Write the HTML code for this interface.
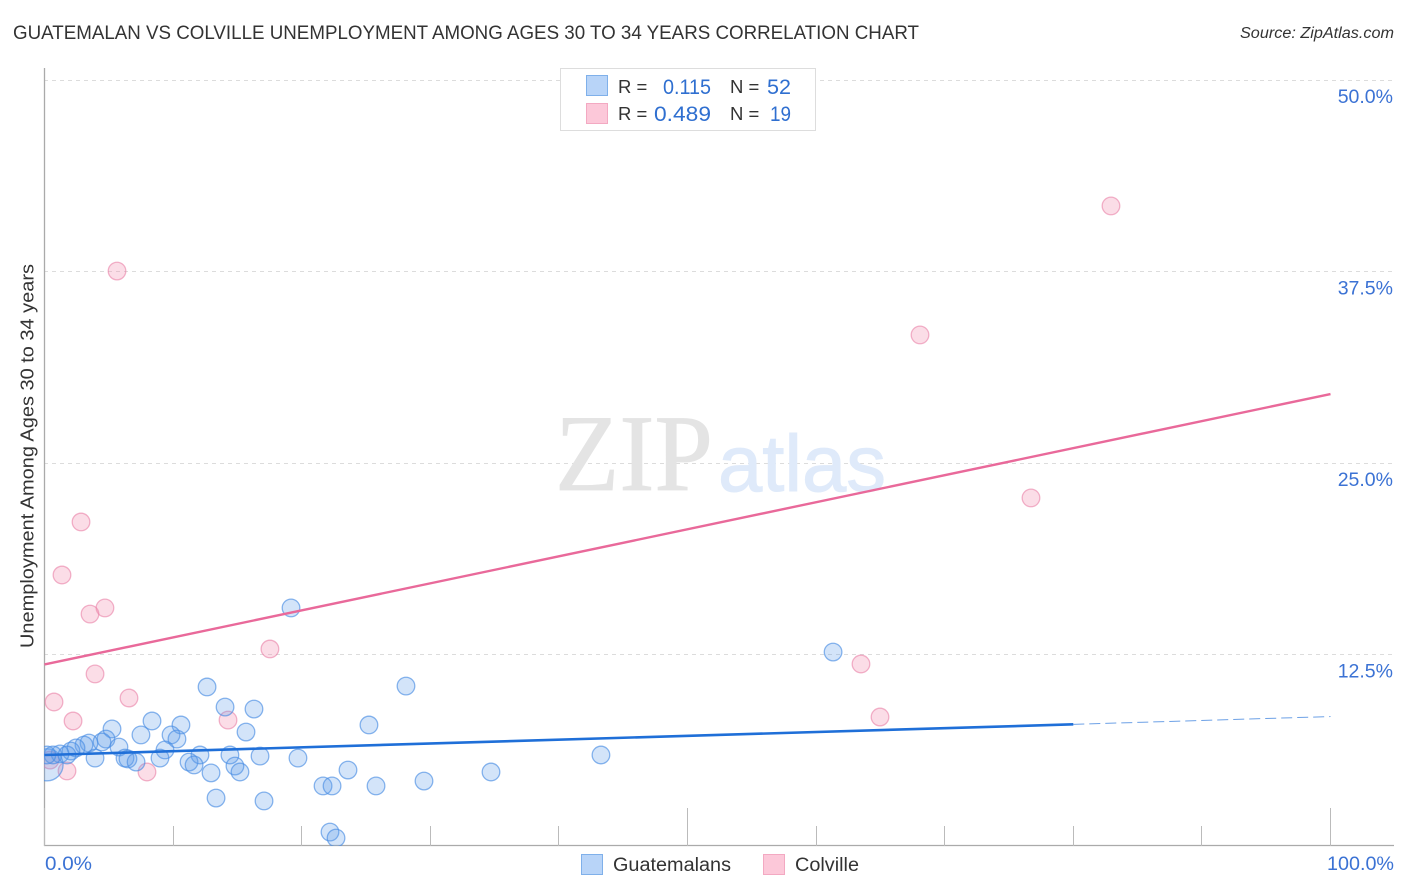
<!DOCTYPE html>
<html lang="en">
<head>
<meta charset="utf-8">
<title>Guatemalan vs Colville Unemployment Among Ages 30 to 34 Years Correlation Chart</title>
<style>
html,body{margin:0;padding:0;background:#fff;}
body{width:1406px;height:892px;overflow:hidden;}
svg{display:block;font-family:"Liberation Sans",sans-serif;}
</style>
</head>
<body>
<svg id="chart" width="1406" height="892" viewBox="0 0 1406 892" xmlns="http://www.w3.org/2000/svg">
  <defs>
    <clipPath id="plot-clip"><rect x="44" y="68" width="1350" height="778"/></clipPath>
  </defs>
  <text x="13" y="39" font-size="19" fill="#333" textLength="906" lengthAdjust="spacingAndGlyphs">GUATEMALAN VS COLVILLE UNEMPLOYMENT AMONG AGES 30 TO 34 YEARS CORRELATION CHART</text>
  <text x="1394" y="38" font-size="15.5" font-style="italic" fill="#333" text-anchor="end" textLength="154" lengthAdjust="spacingAndGlyphs">Source: ZipAtlas.com</text>
  <g id="grid"></g>
  <g>
    <text x="555" y="490" font-family="'Liberation Serif',serif" font-size="109" fill="#e4e4e4" stroke="#e4e4e4" stroke-width="0.8" textLength="158" lengthAdjust="spacingAndGlyphs">ZIP</text>
    <text x="718" y="491" font-size="80" fill="#dfeafa" stroke="#dfeafa" stroke-width="1" textLength="168" lengthAdjust="spacingAndGlyphs">atlas</text>
  </g>
  <g id="axes"></g>
  <g id="points" clip-path="url(#plot-clip)"></g>
  <g id="trends"></g>
  <g id="ylabels"></g>
  <text transform="translate(33.5,456) rotate(-90)" font-size="18" fill="#333" text-anchor="middle" textLength="384" lengthAdjust="spacingAndGlyphs">Unemployment Among Ages 30 to 34 years</text>
  <text x="45" y="870" font-size="19" fill="#3b72d4" textLength="47" lengthAdjust="spacingAndGlyphs">0.0%</text>
  <text x="1394" y="870" font-size="19" fill="#3b72d4" text-anchor="end" textLength="67" lengthAdjust="spacingAndGlyphs">100.0%</text>

  <g>
    <rect x="560.5" y="68.5" width="255" height="62" fill="#fff" stroke="#ddd"/>
    <rect x="586.5" y="75.5" width="21" height="20" fill="#b8d4f8" stroke="#7fb0ea"/>
    <rect x="586.5" y="103.5" width="21" height="20" fill="#fcc8d9" stroke="#f3a9c2"/>
    <text x="618" y="93" font-size="18.5" fill="#333">R =</text>
    <text x="711" y="94" font-size="21" fill="#2f6fd0" text-anchor="end" textLength="48" lengthAdjust="spacingAndGlyphs">0.115</text>
    <text x="730" y="93" font-size="18.5" fill="#333">N =</text>
    <text x="791" y="94" font-size="21" fill="#2f6fd0" text-anchor="end" textLength="24" lengthAdjust="spacingAndGlyphs">52</text>
    <text x="618" y="120" font-size="18.5" fill="#333">R =</text>
    <text x="711" y="121" font-size="21" fill="#2f6fd0" text-anchor="end" textLength="57" lengthAdjust="spacingAndGlyphs">0.489</text>
    <text x="730" y="120" font-size="18.5" fill="#333">N =</text>
    <text x="791" y="121" font-size="21" fill="#2f6fd0" text-anchor="end" textLength="21" lengthAdjust="spacingAndGlyphs">19</text>
  </g>

  <g>
    <rect x="581.5" y="854.5" width="21" height="20" fill="#b8d4f8" stroke="#7fb0ea"/>
    <text x="613" y="871" font-size="19" fill="#333" textLength="118" lengthAdjust="spacingAndGlyphs">Guatemalans</text>
    <rect x="763.5" y="854.5" width="21" height="20" fill="#fcc8d9" stroke="#f3a9c2"/>
    <text x="795" y="871" font-size="19" fill="#333" textLength="64" lengthAdjust="spacingAndGlyphs">Colville</text>
  </g>
</svg>
<script>
const yTickValues = [12.5, 25, 37.5, 50];
const yTickLabels = ["12.5%", "25.0%", "37.5%", "50.0%"];
const xTickValues = [0, 10, 20, 30, 40, 50, 60, 70, 80, 90, 100];
const xMajorTicks = [0, 50, 100];

const guatemalanX = [19.17, 61.32, 12.64, 28.11, 14.04, 16.29, 8.36, 10.61, 25.23, 5.25, 7.5, 9.84, 10.3, 15.67, 4.78, 4.47, 3.46, 3.07, 5.79, 9.37, 2.45, 2.06, 1.21, 0.66, 1.75, 0.19, 3.93, 6.26, 6.49, 7.12, 8.98, 12.09, 11.24, 11.63, 14.42, 14.81, 15.2, 16.76, 19.71, 43.27, 12.95, 23.6, 34.72, 29.51, 21.66, 22.36, 25.78, 13.34, 17.07, 22.2, 22.67];
const guatemalanY = [15.54, 12.66, 10.38, 10.44, 9.07, 8.94, 8.16, 7.9, 7.9, 7.64, 7.25, 7.25, 6.98, 7.44, 6.98, 6.79, 6.72, 6.59, 6.46, 6.27, 6.4, 6.2, 6.01, 5.94, 5.94, 5.94, 5.74, 5.74, 5.68, 5.48, 5.74, 5.94, 5.48, 5.29, 5.94, 5.22, 4.83, 5.87, 5.74, 5.94, 4.77, 4.96, 4.83, 4.24, 3.92, 3.92, 3.92, 3.13, 2.94, 0.91, 0.52];
const guatemalanLargeX = [0.2];
const guatemalanLargeY = [5.3];
const colvilleX = [5.64, 82.93, 68.08, 76.71, 2.84, 1.36, 4.7, 3.54, 3.93, 17.53, 63.49, 64.97, 0.74, 6.57, 14.27, 2.22, 1.75, 7.97, 0.43];
const colvilleY = [37.53, 41.78, 33.36, 22.72, 21.15, 17.69, 15.54, 15.14, 11.23, 12.86, 11.88, 8.42, 9.4, 9.66, 8.22, 8.16, 4.9, 4.83, 5.61];

const guatemalanTrendX = [0, 80];
const guatemalanTrendY = [5.94, 7.94];
const guatemalanProjectionX = [80, 100];
const guatemalanProjectionY = [7.94, 8.45];
const colvilleTrendX = [0, 100];
const colvilleTrendY = [11.85, 29.5];

const NS = "http://www.w3.org/2000/svg";
const xScale = v => 44.5 + v * 12.86;
const yScale = v => 846 - v * 15.32;

function make(parent, tag, attrs) {
  const el = document.createElementNS(NS, tag);
  for (const k in attrs) el.setAttribute(k, attrs[k]);
  parent.appendChild(el);
  return el;
}

const gridG = document.getElementById("grid");
const axesG = document.getElementById("axes");
const pointsG = document.getElementById("points");
const trendsG = document.getElementById("trends");
const ylabelsG = document.getElementById("ylabels");

yTickValues.forEach((v, i) => {
  const y = Math.floor(yScale(v)) + 0.5;
  const grid = make(gridG, "line", {x1: 44, x2: 1394, y1: y, y2: y, stroke: "#dcdcdc", "stroke-width": 1, "stroke-dasharray": "4 4"});
  
  
  const label = make(ylabelsG, "text", {x: 1393, y: yScale(v) + 23, "font-size": 19.5, fill: "#3b72d4", "text-anchor": "end"});
  label.textContent = yTickLabels[i];
  
  
});

const yAxis = make(axesG, "line", {x1: 44.5, x2: 44.5, y1: 68, y2: 846, stroke: "#aaa", "stroke-width": 1.3});


const xAxis = make(axesG, "line", {x1: 44, x2: 1394, y1: 845.5, y2: 845.5, stroke: "#aaa", "stroke-width": 1.3});



xTickValues.forEach(v => {
  const x = Math.floor(xScale(v)) + 0.5;
  const tick = make(axesG, "line", {x1: x, x2: x, y1: xMajorTicks.includes(v) ? 808 : 826, y2: 846, stroke: "#bbb", "stroke-width": 1});
  
  
});

const blueStyle = {fill: "#5b9bea", "fill-opacity": 0.27, stroke: "#4a8ee4", "stroke-opacity": 0.65, "stroke-width": 1.3};
const pinkStyle = {fill: "#f28fb0", "fill-opacity": 0.3, stroke: "#ea80a6", "stroke-opacity": 0.6, "stroke-width": 1.3};

function circleAttrs(x, y, r, style) {
  return Object.assign({cx: xScale(x), cy: yScale(y), r: r}, style);
}

colvilleX.forEach((x, i) => {
  const c = make(pointsG, "circle", circleAttrs(x, colvilleY[i], 8.8, pinkStyle));
  
  
});

guatemalanLargeX.forEach((x, i) => {
  const c = make(pointsG, "circle", circleAttrs(x, guatemalanLargeY[i], 16, blueStyle));
  
  
});

guatemalanX.forEach((x, i) => {
  const c = make(pointsG, "circle", circleAttrs(x, guatemalanY[i], 8.8, blueStyle));
  
  
});

const pinkTrend = make(trendsG, "line", {x1: xScale(colvilleTrendX[0]), y1: yScale(colvilleTrendY[0]), x2: xScale(colvilleTrendX[1]), y2: yScale(colvilleTrendY[1]), stroke: "#e9699a", "stroke-width": 2.4});



const blueTrend = make(trendsG, "line", {x1: xScale(guatemalanTrendX[0]), y1: yScale(guatemalanTrendY[0]), x2: xScale(guatemalanTrendX[1]), y2: yScale(guatemalanTrendY[1]), stroke: "#1f6fd8", "stroke-width": 2.6});



const blueProjection = make(trendsG, "line", {x1: xScale(guatemalanProjectionX[0]), y1: yScale(guatemalanProjectionY[0]), x2: xScale(guatemalanProjectionX[1]), y2: yScale(guatemalanProjectionY[1]), stroke: "#1f6fd8", "stroke-width": 1, "stroke-opacity": 0.65, "stroke-dasharray": "11 5"});


</script>
</body>
</html>
